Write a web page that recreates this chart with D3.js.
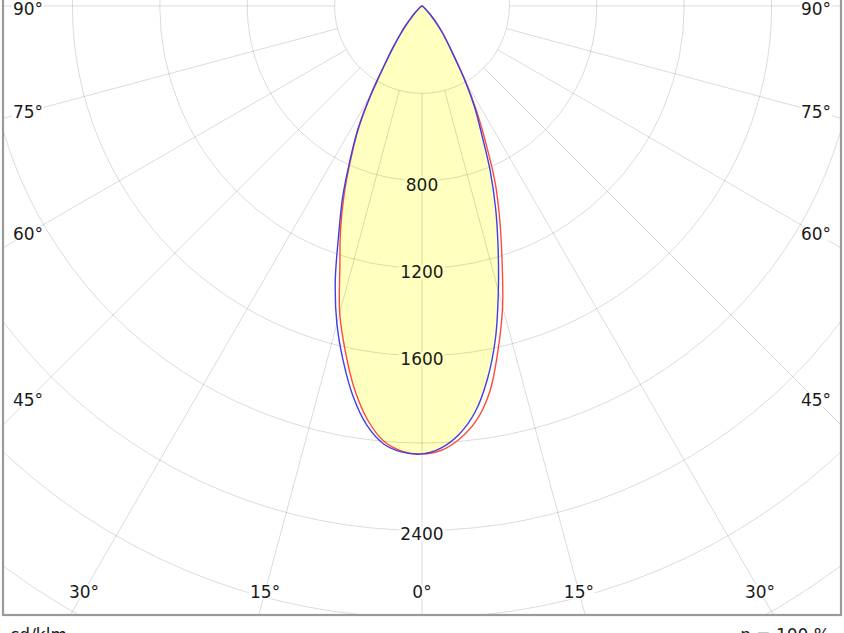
<!DOCTYPE html>
<html>
<head>
<meta charset="utf-8">
<script src="https://cdn.jsdelivr.net/npm/d3@7"></script>
<style>
  html, body { margin: 0; padding: 0; background: #fff; }
  svg { display: block; }
  text { font-family: "DejaVu Sans", Verdana, sans-serif; font-size: 17px; fill: #1a1a1a; }
</style>
</head>
<body>
<div id="chart"></div>
<script>
// ---- data ----
const gammaAngles = [-90,-60,-45,-42.5,-40,-37.5,-35,-32.5,-30,-27.5,-25,-22.5,-20,-17.5,-15,-12.5,-10,-7.5,-5,-2.5,
                     0,2.5,5,7.5,10,12.5,15,17.5,20,22.5,25,27.5,30,32.5,35,37.5,40,42.5,45,60,90];
// red curve (C0 - C180), cd/klm
const redValues = [0,5,48,72,110,160,225,315,460,625,770,930,1090,1250,1455,1620,1780,1910,2000,2040,
                   2050,2035,1988,1912,1790,1610,1425,1218,1040,875,690,540,400,280,205,152,106,70,46,5,0];
// blue curve (C90 - C270), cd/klm
const blueValues = [0,5,50,75,115,165,230,320,470,635,780,950,1115,1320,1505,1665,1815,1935,2012,2044,
                    2050,2024,1966,1872,1730,1555,1350,1158,985,815,645,520,390,270,200,150,105,70,45,5,0];
const ringValues = [400,800,1200,1600,2000,2400,2800,3200,3600];
const ringLabels = [800,1200,1600,2400];
const spokeAngles = [-90,-75,-60,-45,-30,-15,0,15,30,45,60,75,90];
const unitLabel = "cd/klm";
const effLabel = "η = 100 %";

// ---- layout ----
const W = 844, H = 633;
const cx = 422, cy = 6;
const frame = {x: 3, y: -10, w: 838, h: 625};
const fillColor = "#ffffbf";

const svg = d3.select("#chart").append("svg").attr("width", W).attr("height", H);
const r = d3.scaleLinear().domain([0, 3200]).range([0, 699.2]);
const rad = d => d * Math.PI / 180;

const defs = svg.append("defs");
defs.append("clipPath").attr("id", "frameClip").append("rect")
  .attr("x", frame.x).attr("y", frame.y).attr("width", frame.w).attr("height", frame.h);

const radial = d3.lineRadial()
  .angle(d => Math.PI - rad(d[0]))
  .radius(d => r(d[1]))
  .curve(d3.curveCatmullRom.alpha(0.5));

const redPts = gammaAngles.map((a, i) => [a, redValues[i]]);
const bluePts = gammaAngles.map((a, i) => [a, blueValues[i]]);

// fill: intersection of both curves
defs.append("clipPath").attr("id", "blueClip").append("path")
  .attr("d", radial(bluePts) + "Z");
const fillG = svg.append("g").attr("transform", `translate(${cx},${cy})`);
fillG.append("path")
  .attr("clip-path", "url(#blueClip)")
  .attr("d", radial(redPts) + "Z")
  .attr("fill", fillColor);

// grid rings
const grid = svg.append("g").attr("clip-path", "url(#frameClip)")
  .append("g").attr("transform", `translate(${cx},${cy})`);
grid.selectAll("circle.ring").data(ringValues).join("circle")
  .attr("class", "ring")
  .attr("r", d => r(d))
  .attr("fill", "none")
  .attr("stroke", "rgba(0,0,0,0.14)")
  .attr("stroke-width", 1);
// spokes
grid.selectAll("line.spoke").data(spokeAngles).join("line")
  .attr("class", "spoke")
  .attr("x1", d => r(400) * Math.sin(rad(d)))
  .attr("y1", d => r(400) * Math.cos(rad(d)))
  .attr("x2", d => r(4000) * Math.sin(rad(d)))
  .attr("y2", d => r(4000) * Math.cos(rad(d)))
  .attr("stroke", "rgba(0,0,0,0.14)")
  .attr("stroke-width", 1);

// curves
const curves = svg.append("g").attr("transform", `translate(${cx},${cy})`);
curves.append("path").attr("d", radial(redPts))
  .attr("fill", "none").attr("stroke", "#ff4a3a").attr("stroke-width", 1.4);
curves.append("path").attr("d", radial(bluePts))
  .attr("fill", "none").attr("stroke", "#3f3fe8").attr("stroke-width", 1.4);

// label helper with background
function label(parent, x, yCenter, txt, bg) {
  const t = parent.append("text")
    .attr("x", x).attr("y", yCenter + 6.2)
    .attr("text-anchor", "middle").text(txt);
  const bb = t.node().getBBox();
  parent.insert("rect", () => t.node())
    .attr("x", bb.x - 1).attr("y", yCenter - 7).attr("width", bb.width + 2).attr("height", 14)
    .attr("fill", bg);
}

// ring value labels
const labG = svg.append("g");
ringLabels.forEach(v => {
  const y = cy + r(v) + 3.5;
  const inside = v < 2050;
  label(labG, cx, y, String(v), inside ? fillColor : "#ffffff");
});

// angle labels on inset rectangle
const insetX = 394, insetY = 585.5;
spokeAngles.forEach(a => {
  const s = Math.sin(rad(a)), c = Math.cos(rad(a));
  const tSide = Math.abs(s) > 1e-9 ? insetX / Math.abs(s) : Infinity;
  const tBot = c > 1e-9 ? insetY / c : Infinity;
  const t = Math.min(tSide, tBot);
  const x = cx + t * s;
  const y = Math.max(cy + t * c, 8.5);
  label(labG, x, y, Math.abs(a) + "°", "#ffffff");
});

// frame
svg.append("rect")
  .attr("x", frame.x).attr("y", frame.y).attr("width", frame.w).attr("height", frame.h)
  .attr("fill", "none").attr("stroke", "#9a9a9a").attr("stroke-width", 2.2);

// footer texts
svg.append("text").attr("x", 10).attr("y", 640.5).text(unitLabel);
svg.append("text").attr("x", 830).attr("y", 640.5).attr("text-anchor", "end").text(effLabel);
</script>
</body>
</html>
